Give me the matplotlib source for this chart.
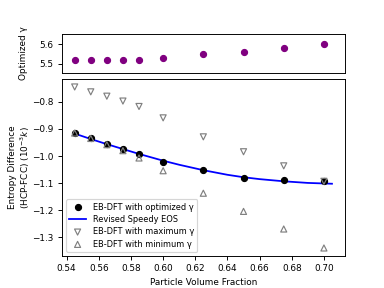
import matplotlib
matplotlib.use("Agg")
import matplotlib.pyplot as plt

# data
phi = [0.545, 0.555, 0.565, 0.575, 0.585, 0.600, 0.625, 0.650, 0.675, 0.700]
gamma_opt = [5.517, 5.517, 5.517, 5.519, 5.521, 5.530, 5.550, 5.562, 5.580, 5.600]
ds_opt = [-0.914, -0.934, -0.956, -0.973, -0.994, -1.020, -1.050, -1.079, -1.088, -1.093]
ds_max = [-0.745, -0.763, -0.779, -0.797, -0.817, -0.859, -0.929, -0.984, -1.036, -1.093]
ds_min = [-0.915, -0.935, -0.958, -0.980, -1.007, -1.054, -1.137, -1.204, -1.269, -1.339]

phi_eos = [0.545, 0.555, 0.565, 0.575, 0.585, 0.600, 0.610, 0.625, 0.640,
           0.650, 0.660, 0.675, 0.690, 0.705]
ds_eos = [-0.917, -0.937, -0.956, -0.974, -0.992, -1.017, -1.032, -1.052, -1.069,
          -1.078, -1.085, -1.093, -1.099, -1.102]

plt.rcParams["font.size"] = 7.5

fig = plt.figure(figsize=(4.5, 3.375), dpi=384 / 4.5)
ax1 = fig.add_axes([0.161, 0.747, 0.737, 0.135])
ax2 = fig.add_axes([0.161, 0.111, 0.737, 0.615], sharex=ax1)

# top panel
ax1.scatter(phi, gamma_opt, color="purple", s=26)
ax1.set_ylim(5.454, 5.652)
ax1.set_ylabel("Optimized γ")
ax1.tick_params(axis="x", bottom=False, labelbottom=False)

# bottom panel
ax2.plot(phi_eos, ds_eos, color="blue", label="Revised Speedy EOS", zorder=1)
ax2.scatter(phi, ds_opt, color="black", s=26, label="EB-DFT with optimized γ", zorder=2)
ax2.scatter(phi, ds_max, marker="v", facecolors="none", edgecolors="gray", s=26,
            label="EB-DFT with maximum γ", zorder=3)
ax2.scatter(phi, ds_min, marker="^", facecolors="none", edgecolors="gray", s=26,
            label="EB-DFT with minimum γ", zorder=3)
ax2.set_xlabel("Particle Volume Fraction")
ax2.set_ylabel("Entropy Difference\n(HCP-FCC) ($10^{-3}k$)")
ax2.set_xticks([0.54, 0.56, 0.58, 0.60, 0.62, 0.64, 0.66, 0.68, 0.70])

h, l = ax2.get_legend_handles_labels()
order = [1, 0, 2, 3]
ax2.legend([h[i] for i in order], [l[i] for i in order], loc="lower left",
           fontsize=7, scatterpoints=1, labelspacing=0.4)

# y label positions
ax1.yaxis.set_label_coords(-0.118, 0.5)
ax2.yaxis.set_label_coords(-0.104, 0.5)

fig.savefig("out.png", dpi=384 / 4.5)
